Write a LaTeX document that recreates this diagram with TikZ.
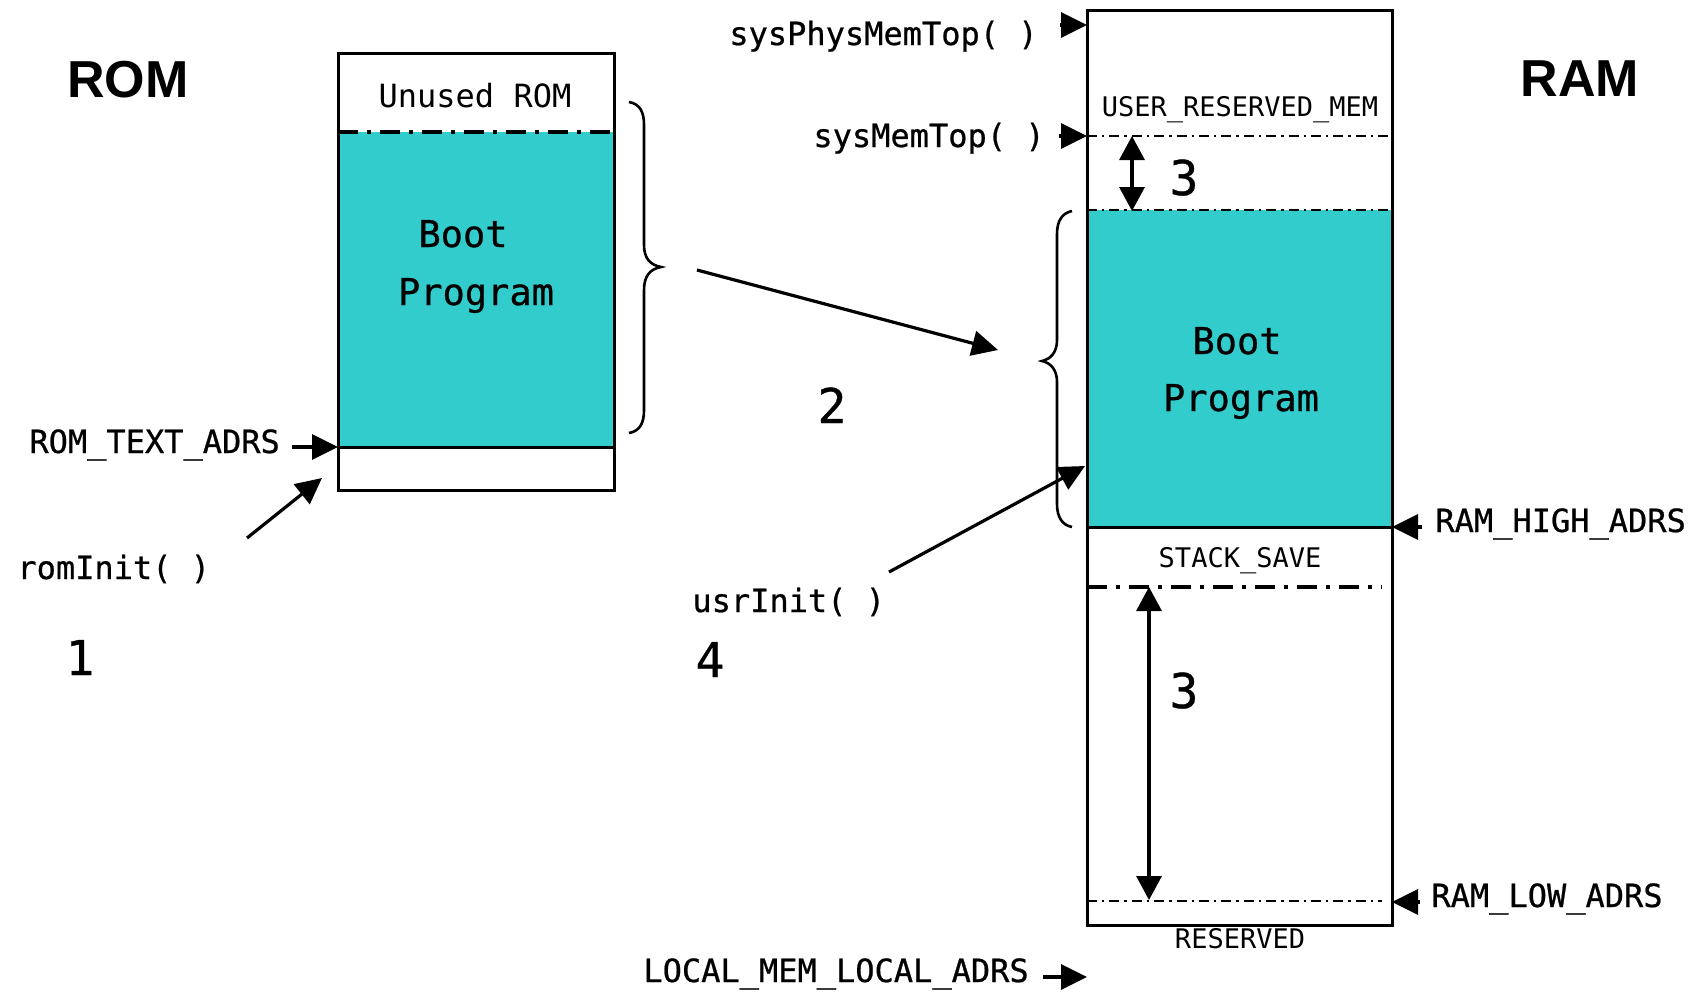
\documentclass[tikz,border=0pt]{standalone}
\usepackage{fontspec}
\setmainfont{DejaVu Sans Mono}
\newfontfamily\titlefont{Liberation Sans}
\newfontfamily\monofont{DejaVu Sans Mono}
\newfontfamily\monoheavy[FakeBold=0.7]{DejaVu Sans Mono}
\usetikzlibrary{arrows.meta,calc}
\definecolor{bootcyan}{RGB}{51,204,204}
\tikzset{
  lbl/.style={font=\monoheavy\fontsize{16}{18}\selectfont, inner sep=0pt},
  plainlbl/.style={font=\monofont\fontsize{16}{18}\selectfont, inner sep=0pt},
  small/.style={font=\monofont\fontsize{13.5}{15}\selectfont, inner sep=0pt},
  boot/.style={font=\monoheavy\fontsize{18.5}{20}\selectfont, inner sep=0pt},
  num/.style={font=\monoheavy\fontsize{24}{26}\selectfont, inner sep=0pt},
  title/.style={font=\titlefont\bfseries\fontsize{26}{28}\selectfont, inner sep=0pt},
  ptr/.style={line width=1.6pt, -{Triangle[length=13pt,width=12.5pt]}},
  dptr/.style={line width=1.6pt, {Triangle[length=12pt,width=12.5pt]}-{Triangle[length=12pt,width=12.5pt]}},
  membox/.style={line width=1.5pt},
  thickdd/.style={line width=2pt, dash pattern=on 10pt off 4.5pt on 2pt off 4.5pt},
  thindd/.style={line width=1.4pt, dash pattern=on 5pt off 2.5pt on 1.2pt off 2.5pt},
  bracepath/.style={line width=1.3pt},
}
\begin{document}
\begin{tikzpicture}[x=0.5pt,y=-0.5pt]
\useasboundingbox (0,0) rectangle (1700,992);

% ---------- ROM column ----------
\fill[bootcyan] (338,132) rectangle (614,447);
\draw[thickdd] (338,132) -- (614,132);
\draw[membox] (338,447) -- (614,447);
\draw[membox] (338,53) rectangle (614,490);

\node[title, anchor=base] (romT) at (128,97) {ROM};
\node[plainlbl, anchor=base] (unused) at (475,107) {Unused ROM};
\node[boot, anchor=base] (romBoot) at (463,247) {Boot};
\node[boot, anchor=base] (romProg) at (476,305) {Program};

% brace around the copied part of ROM
\draw[bracepath] (629,102) .. controls (640,104) and (644,112) .. (644,125)
  -- (644,245) .. controls (644,258) and (650,265) .. (661,267)
  .. controls (650,269) and (644,276) .. (644,290)
  -- (644,410) .. controls (644,423) and (640,431) .. (629,433);

\coordinate (romText) at (338,447);
\node[lbl, anchor=base west] (romTextLbl) at (29,453) {ROM\_TEXT\_ADRS};
\draw[ptr] ([xshift=6pt]romTextLbl.east |- romText) -- (romText);

\node[lbl, anchor=base west] (romInit) at (17,579) {romInit( )};
\coordinate (romInitTail) at (247,538);
\coordinate (romInitTip) at (322,478);
\draw[ptr] (romInitTail) -- (romInitTip);
\node[num, anchor=base] (one) at (80,675) {1};

% ---------- copy step ----------
\coordinate (copyTail) at (697,270);
\coordinate (copyTip) at (998,350);
\draw[ptr] (copyTail) -- (copyTip);
\node[num, anchor=base] (two) at (832,423) {2};

% ---------- RAM column ----------
\fill[bootcyan] (1087,210) rectangle (1392,527);
\draw[thindd] (1087,136) -- (1392,136);
\draw[thindd] (1087,210) -- (1392,210);
\draw[membox] (1087,527) -- (1392,527);
\draw[thickdd] (1087,587) -- (1382,587);
\draw[thindd] (1087,901) -- (1382,901);
\draw[membox] (1087,10) rectangle (1392,925);

\node[title, anchor=base] (ramT) at (1580,96) {RAM};
\node[small, anchor=base] (userRes) at (1240,116) {USER\_RESERVED\_MEM};
\node[boot, anchor=base] (ramBoot) at (1237,354) {Boot};
\node[boot, anchor=base] (ramProg) at (1241,411) {Program};
\node[small, anchor=base] (stackSave) at (1240,567) {STACK\_SAVE};
\node[small, anchor=base] (reserved) at (1240,948) {RESERVED};

% brace around the boot program in RAM
\draw[bracepath] (1072,211) .. controls (1062,213) and (1057,221) .. (1057,234)
  -- (1057,340) .. controls (1057,352) and (1051,359) .. (1042,361)
  .. controls (1051,363) and (1057,370) .. (1057,382)
  -- (1057,504) .. controls (1057,517) and (1062,525) .. (1072,527);

% address pointers
\coordinate (physTop) at (1087,25);
\node[lbl, anchor=base east] (physLbl) at (1038,45) {sysPhysMemTop( )};
\draw[ptr] ([xshift=11pt]physLbl.east |- physTop) -- (physTop);

\coordinate (memTop) at (1087,136);
\node[lbl, anchor=base east] (memTopLbl) at (1045,147) {sysMemTop( )};
\draw[ptr] ([xshift=7pt]memTopLbl.east |- memTop) -- (memTop);

\coordinate (highAdrs) at (1392,527);
\node[lbl, anchor=base west] (highLbl) at (1435,532) {RAM\_HIGH\_ADRS};
\draw[ptr] ([xshift=-6.5pt]highLbl.west |- highAdrs) -- (highAdrs);

\coordinate (lowAdrs) at (1392,902);
\node[lbl, anchor=base west] (lowLbl) at (1431,907) {RAM\_LOW\_ADRS};
\draw[ptr] ([xshift=-5.5pt]lowLbl.west |- lowAdrs) -- (lowAdrs);

\coordinate (localAdrs) at (1087,977);
\node[lbl, anchor=base west] (localLbl) at (643,982) {LOCAL\_MEM\_LOCAL\_ADRS};
\draw[ptr] ([xshift=7pt]localLbl.east |- localAdrs) -- (localAdrs);

% usrInit entry
\node[lbl, anchor=base west] (usrInit) at (692,612) {usrInit( )};
\coordinate (usrTail) at (889,572);
\coordinate (usrTip) at (1085,466);
\draw[ptr] (usrTail) -- (usrTip);
\node[num, anchor=base] (four) at (710,677) {4};

% growth ranges
\coordinate (gapTopA) at (1132,136);
\coordinate (gapTopB) at (1132,211);
\draw[dptr] (gapTopA) -- (gapTopB);
\node[num, anchor=base] (threeA) at (1184,195) {3};

\coordinate (gapLowA) at (1149,587);
\coordinate (gapLowB) at (1149,900);
\draw[dptr] (gapLowA) -- (gapLowB);
\node[num, anchor=base] (threeB) at (1184,708) {3};
\end{tikzpicture}
\end{document}
